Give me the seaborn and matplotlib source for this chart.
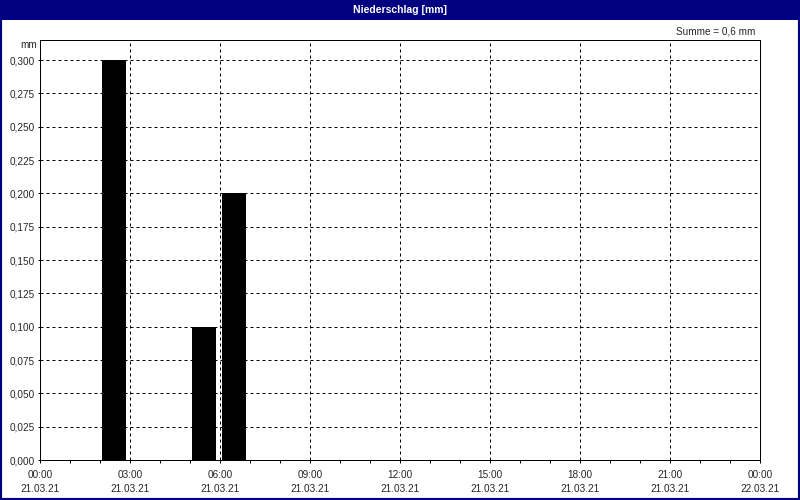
import matplotlib
matplotlib.use("Agg")
import matplotlib.pyplot as plt
import seaborn as sns
from matplotlib.patches import Rectangle
from matplotlib.ticker import MultipleLocator, FuncFormatter, FixedLocator

# data (hour of day at interval start, precipitation in mm)
hours = [2, 5, 6]
precip = [0.3, 0.1, 0.2]
tick_hours = [0, 3, 6, 9, 12, 15, 18, 21, 24]
tick_labels = ["00:00\n21.03.21", "03:00\n21.03.21", "06:00\n21.03.21",
               "09:00\n21.03.21", "12:00\n21.03.21", "15:00\n21.03.21",
               "18:00\n21.03.21", "21:00\n21.03.21", "00:00\n22.03.21"]

NAVY = "#000080"
PX = 0.72  # one pixel in points at 100 dpi

sns.set_style("white")
plt.rcParams["font.family"] = ["Liberation Sans", "DejaVu Sans"]

fig = plt.figure(figsize=(8, 5), dpi=100, facecolor="white")
ax = fig.add_axes([40 / 800, 40 / 500, 720 / 800, 420 / 500])

# bars sit slightly inside their hour slot
centers = [h + 0.467 for h in hours]
sns.barplot(x=centers, y=precip, native_scale=True, width=0.8,
            color="black", saturation=1, errorbar=None, linewidth=0, ax=ax)

ax.set_xlim(0, 24)
ax.set_ylim(0, 0.315)
ax.xaxis.set_major_locator(FixedLocator(tick_hours))
ax.set_xticklabels(tick_labels, fontsize=7.2, linespacing=1.5)
ax.xaxis.set_minor_locator(MultipleLocator(1))
ax.yaxis.set_major_locator(MultipleLocator(0.025))
ax.yaxis.set_major_formatter(FuncFormatter(lambda v, p: f"{v:.3f}".replace(".", ",")))
ax.tick_params(axis="y", labelsize=7.2, length=2.5 * PX, width=PX, pad=2,
               left=True, color="black")
ax.tick_params(axis="x", which="both", length=3 * PX, width=PX, pad=5,
               bottom=True, color="black")
ax.set_xlabel("")
ax.set_ylabel("")

ax.grid(True, which="major", color="black", linewidth=PX, linestyle=(0, (3, 3)))
ax.set_axisbelow(False)
for b in ax.patches:
    b.set_zorder(1.5)
for s in ax.spines.values():
    s.set_color("black")
    s.set_linewidth(PX)
    s.set_zorder(3)

# window frame and title bar
fig.patches.append(Rectangle((0, 1 - 20 / 500), 1, 20 / 500, transform=fig.transFigure,
                             facecolor=NAVY, edgecolor="none", zorder=0))
fig.patches.append(Rectangle((0, 0), 1, 1, transform=fig.transFigure,
                             fill=False, edgecolor=NAVY, linewidth=3, zorder=5))
fig.text(0.5, 1 - 10 / 500, "Niederschlag [mm]", color="white", fontsize=7.5,
         fontweight="bold", ha="center", va="center")

total = sum(precip)
fig.text(755 / 800, 1 - 31 / 500, f"Summe = {total:.1f} mm".replace(".", ","),
         fontsize=7.2, ha="right", va="center")
fig.text(37 / 800, 1 - 45 / 500, "mm", fontsize=7.2, ha="right", va="center")

fig.savefig("out.png", dpi=100, facecolor="white")
